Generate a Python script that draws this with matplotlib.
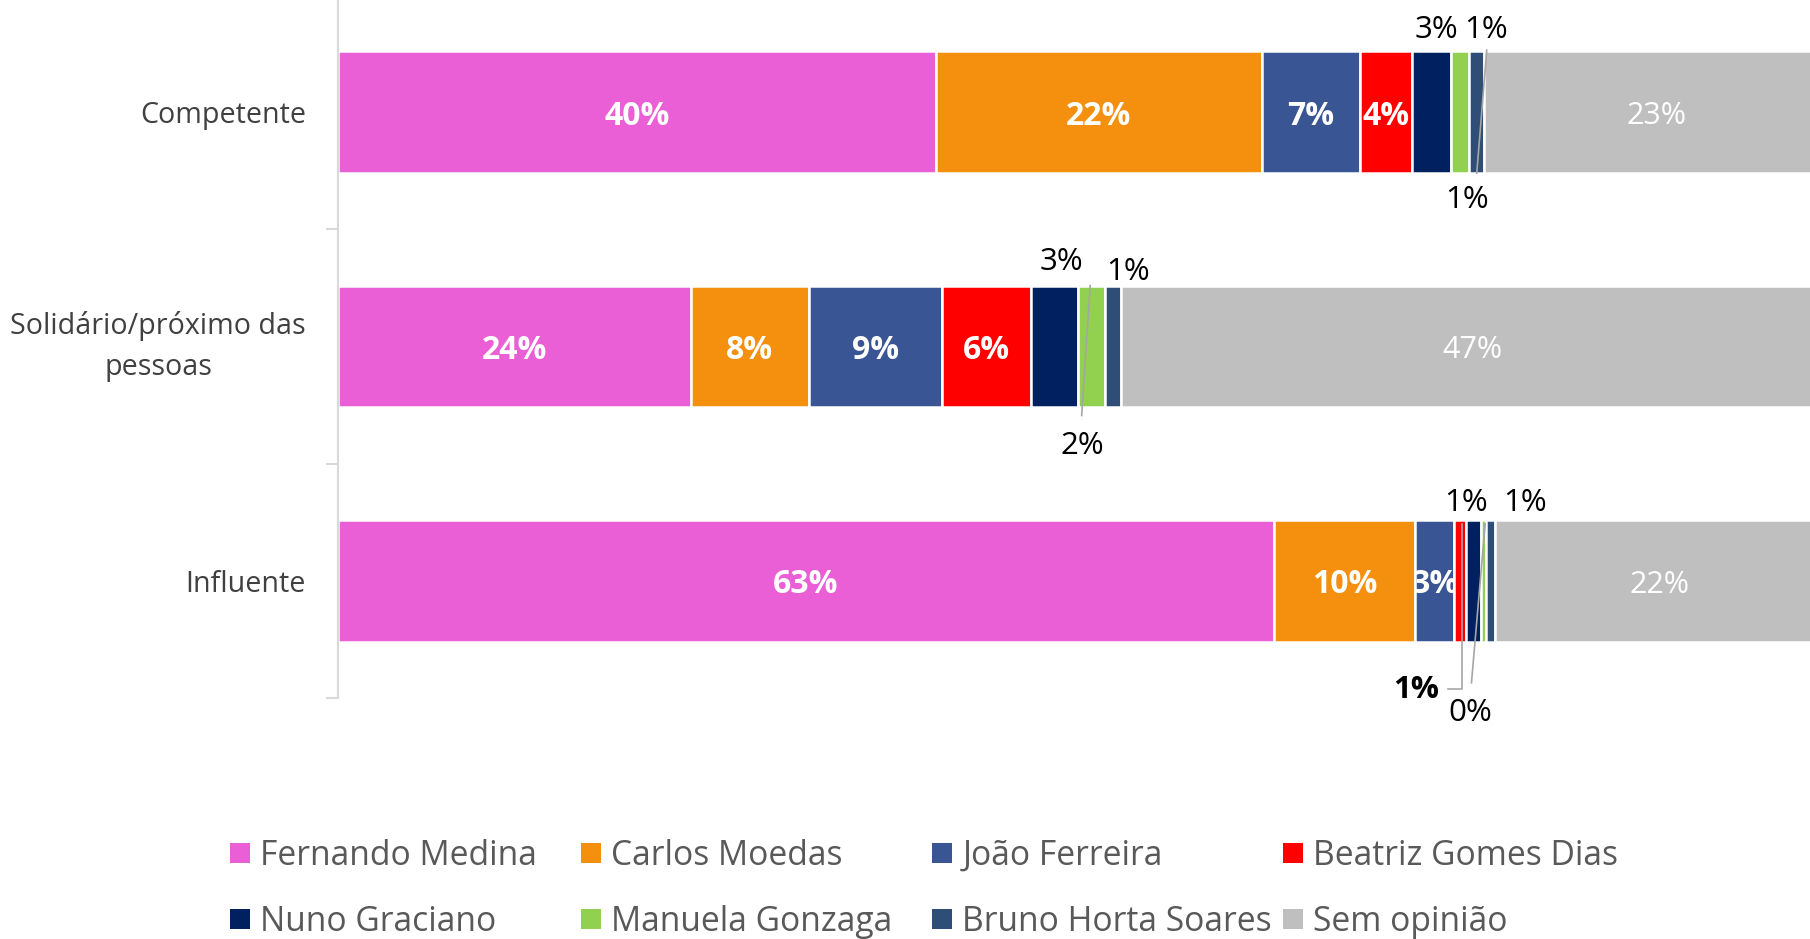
import numpy as np
import matplotlib.pyplot as plt
from matplotlib.lines import Line2D
from matplotlib.transforms import IdentityTransform

plt.rcParams['font.family'] = ['Open Sans', 'DejaVu Sans']

categories = ['Competente', 'Solidário/próximo das\npessoas', 'Influente']
candidates = ['Fernando Medina', 'Carlos Moedas', 'João Ferreira', 'Beatriz Gomes Dias',
              'Nuno Graciano', 'Manuela Gonzaga', 'Bruno Horta Soares', 'Sem opinião']
colors = ['#EA5FD6', '#F4900E', '#3A5593', '#FF0000',
          '#002060', '#92D050', '#2E4D77', '#BFBFBF']

# percentages per category (Competente, Solidario, Influente)
medina = [40.0, 23.6, 62.6]
moedas = [21.8, 7.9, 9.5]
joao = [6.6, 8.9, 2.6]
beatriz = [3.5, 6.0, 0.8]
nuno = [2.6, 3.1, 1.0]
manuela = [1.2, 1.8, 0.3]
bruno = [1.0, 1.1, 0.6]
sem_opiniao = [23.0, 47.0, 22.0]

series = [medina, moedas, joao, beatriz, nuno, manuela, bruno, sem_opiniao]

# labels placed outside the bar: (row, series, dx px, dy px (down), bold, leader line pts)
outside = [
    (0, 4, 4, -82, False, None),
    (0, 5, 7, 88, False, None),
    (0, 6, 9, -82, False, [(10, -62), (0, 61)]),
    (1, 4, 7, -85, False, None),
    (1, 6, 15, -74, False, None),
    (1, 5, -9, 99, False, [(-1, -61), (-9.5, 69)]),
    (2, 3, -44, 109, True, [(-12.5, 108), (1.5, 108), (1.5, -57)]),
    (2, 4, -7.5, -78, False, None),
    (2, 5, -13, 132, False, [(1.7, -57), (-12, 102)]),
    (2, 6, 35, -78, False, None),
]

W, H = 1810, 939
fig = plt.figure(figsize=(W / 100, H / 100), dpi=100)
ax = fig.add_axes([338 / W, 1 - 698 / H, 1 - 338 / W, 703 / H])

y = np.arange(len(categories))
left = np.zeros(len(categories))
for i, vals in enumerate(series):
    b = ax.barh(y, vals, left=left, height=0.52, color=colors[i],
                edgecolor='white', linewidth=1.8, label=candidates[i])
    for r, v in enumerate(vals):
        cx = left[r] + v / 2
        if i == 7:
            ax.annotate(f'{v:.0f}%', xy=(cx, r), xytext=(0, -4), textcoords='offset pixels',
                        ha='center', va='center', fontsize=22, color='white')
        elif i <= 3 and v >= 2:
            t = ax.annotate(f'{v:.0f}%', xy=(cx, r), xytext=(0, -4),
                            textcoords='offset pixels', ha='center', va='center',
                            fontsize=23, fontweight='bold', color='white')
            t.set_clip_path(b.patches[r])
    left = left + np.array(vals)

ax.set_xlim(0, 98.5)
ax.set_ylim(2.5, -0.5)

for s in ['top', 'right', 'bottom']:
    ax.spines[s].set_visible(False)
ax.spines['left'].set_color('#D9D9D9')
ax.spines['left'].set_linewidth(1.5)
ax.set_xticks([])
ax.set_yticks([0.5, 1.5, 2.5])
ax.set_yticklabels([])
ax.set_yticks(y, categories, minor=True)
ax.tick_params(axis='y', which='major', length=9, width=1.5, color='#D9D9D9')
ax.tick_params(axis='y', which='minor', length=0, pad=23, labelsize=20.6,
               labelcolor='#404040')
for t in ax.get_yticklabels(minor=True):
    t.set_multialignment('center')
    t.set_linespacing(1.55)
    if '\n' in t.get_text():
        t.set_verticalalignment('center')

# outside labels and leader lines
cum = np.cumsum(np.array(series), axis=0)
for r, i, dx, dy, bold, pts in outside:
    v = series[i][r]
    cx = cum[i][r] - v / 2
    ax.annotate(f'{v:.0f}%', xy=(cx, r), xytext=(dx, -dy), textcoords='offset pixels',
                ha='center', va='center', fontsize=22.5, color='black',
                fontweight='bold' if bold else 'normal')
    if pts:
        px, py = ax.transData.transform((cx, r))
        xs = [px + p[0] for p in pts]
        ys = [py - p[1] for p in pts]
        ax.add_line(Line2D(xs, ys, transform=IdentityTransform(), color='#A6A6A6',
                           linewidth=1.2, clip_on=False))

# legend, laid out in four fixed columns
handles = [Line2D([], [], ls='none', marker='s', markersize=14, markeredgewidth=0,
                  color=c) for c in colors]
col_x = [230, 581, 932, 1283]
for c, x in enumerate(col_x):
    fig.legend([handles[c], handles[c + 4]], [candidates[c], candidates[c + 4]],
               loc='center left', bbox_to_anchor=(x / W, 1 - 889 / H),
               frameon=False, borderpad=0, borderaxespad=0, handlelength=0.6,
               handletextpad=0.3, labelspacing=0.95, fontsize=24.2,
               labelcolor='#595959')

fig.savefig('out.png', dpi=100)
